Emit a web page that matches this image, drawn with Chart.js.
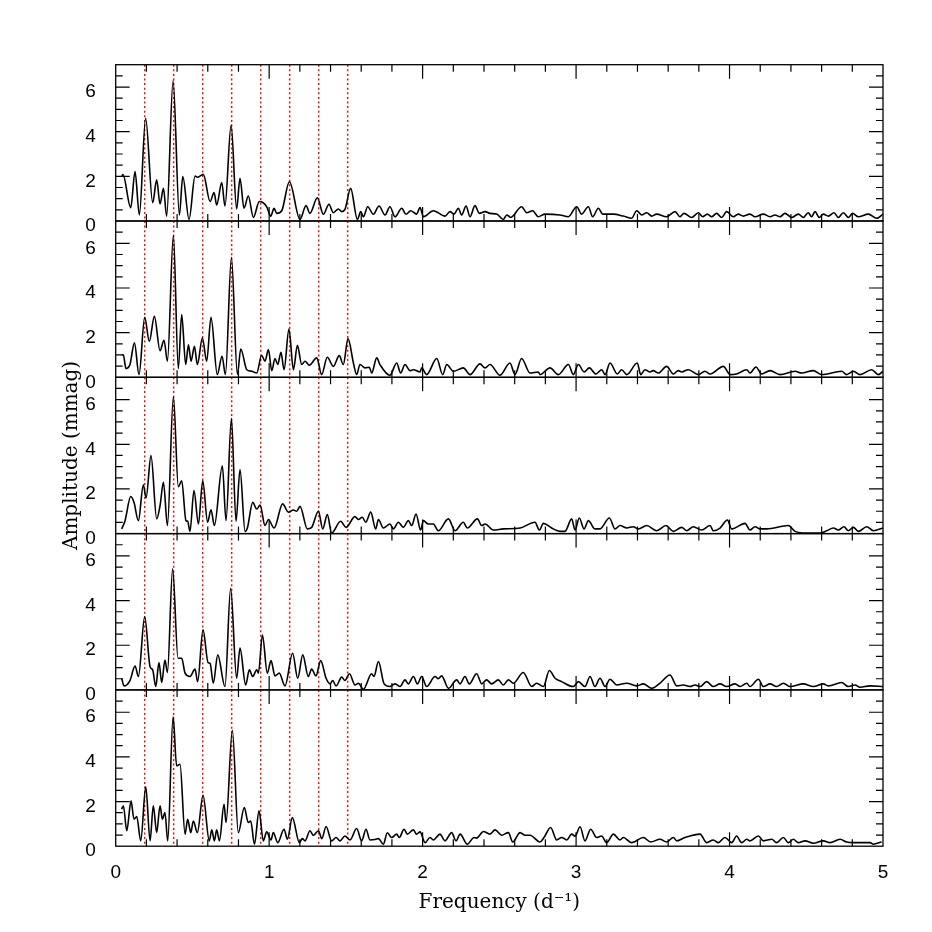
<!DOCTYPE html>
<html>
<head>
<meta charset="utf-8">
<script src="https://cdn.jsdelivr.net/npm/chart.js@4.4.0/dist/chart.umd.min.js"></script>
<style>
  html, body { margin: 0; padding: 0; background: #fff; }
  #wrap { position: relative; width: 932px; height: 932px; }
  #wrap canvas { position: absolute; left: 0; top: 0; }
</style>
</head>
<body>
<div id="wrap">
  <canvas id="p1" width="932" height="932"></canvas>
  <canvas id="p2" width="932" height="932"></canvas>
  <canvas id="p3" width="932" height="932"></canvas>
  <canvas id="p4" width="932" height="932"></canvas>
  <canvas id="p5" width="932" height="932"></canvas>
</div>
<script>
// frequency (d^-1), amplitude (mmag)
const spec1 = [
  [0.040, 2.02], [0.047, 2.08], [0.098, 0.60], [0.126, 2.21], [0.154, 0.27], [0.195, 4.60], [0.241, 0.82], [0.267, 1.84],
  [0.289, 0.76], [0.311, 1.46], [0.332, 0.22], [0.374, 6.28], [0.415, 0.27], [0.437, 1.99], [0.478, 0.07], [0.517, 2.01],
  [0.532, 1.96], [0.571, 2.09], [0.615, 0.87], [0.641, 1.27], [0.658, 0.72], [0.691, 1.72], [0.712, 0.67], [0.752, 4.30],
  [0.788, 0.54], [0.810, 1.91], [0.836, 0.57], [0.864, 1.12], [0.897, 0.16], [0.936, 0.87], [0.984, 0.64], [1.010, 0.22],
  [1.032, 0.57], [1.049, 0.34], [1.082, 0.46], [1.132, 1.76], [1.201, 0.07], [1.240, 0.69], [1.266, 0.34], [1.314, 1.04],
  [1.353, 0.30], [1.390, 0.75], [1.418, 0.37], [1.451, 0.54], [1.473, 0.42], [1.494, 0.52], [1.531, 1.46], [1.575, 0.07],
  [1.597, 0.42], [1.614, 0.19], [1.642, 0.64], [1.679, 0.30], [1.716, 0.67], [1.755, 0.27], [1.787, 0.64], [1.820, 0.19],
  [1.864, 0.57], [1.892, 0.30], [1.922, 0.46], [1.961, 0.31], [1.983, 0.60], [2.005, 0.19], [2.070, 0.46], [2.146, 0.22],
  [2.178, 0.42], [2.205, 0.31], [2.233, 0.57], [2.254, 0.27], [2.283, 0.67], [2.309, 0.19], [2.341, 0.69], [2.370, 0.34],
  [2.407, 0.42], [2.439, 0.34], [2.483, 0.31], [2.526, 0.07], [2.548, 0.27], [2.574, 0.16], [2.645, 0.64], [2.678, 0.37],
  [2.717, 0.46], [2.754, 0.19], [2.797, 0.31], [2.895, 0.27], [2.950, 0.19], [3.004, 0.64], [3.036, 0.31], [3.080, 0.64],
  [3.108, 0.19], [3.145, 0.57], [3.173, 0.31], [3.243, 0.31], [3.308, 0.22], [3.362, 0.12], [3.395, 0.46], [3.427, 0.27],
  [3.460, 0.37], [3.493, 0.22], [3.525, 0.31], [3.590, 0.19], [3.645, 0.42], [3.677, 0.19], [3.703, 0.34], [3.753, 0.16],
  [3.797, 0.37], [3.825, 0.19], [3.855, 0.31], [3.883, 0.19], [3.916, 0.34], [3.949, 0.16], [3.981, 0.42], [4.025, 0.19],
  [4.057, 0.31], [4.090, 0.22], [4.133, 0.31], [4.166, 0.19], [4.220, 0.31], [4.264, 0.19], [4.296, 0.27], [4.329, 0.19],
  [4.361, 0.34], [4.405, 0.16], [4.448, 0.31], [4.481, 0.16], [4.513, 0.37], [4.535, 0.19], [4.557, 0.42], [4.585, 0.16],
  [4.611, 0.31], [4.644, 0.22], [4.681, 0.37], [4.709, 0.16], [4.742, 0.37], [4.774, 0.16], [4.802, 0.34], [4.839, 0.19],
  [4.904, 0.31], [4.959, 0.12], [5.000, 0.31]
];

const spec2 = [
  [0.039, 1.01], [0.050, 1.00], [0.067, 0.39], [0.093, 0.57], [0.122, 1.54], [0.152, 0.12], [0.189, 2.69], [0.219, 1.61],
  [0.252, 2.73], [0.289, 1.19], [0.315, 1.66], [0.337, 0.72], [0.376, 6.36], [0.408, 0.39], [0.430, 2.81], [0.456, 0.57],
  [0.474, 1.46], [0.491, 0.72], [0.513, 1.39], [0.532, 0.57], [0.565, 1.76], [0.593, 0.72], [0.621, 2.69], [0.662, 0.12],
  [0.693, 0.94], [0.715, 0.12], [0.754, 5.37], [0.793, 0.12], [0.815, 1.27], [0.854, 0.34], [0.886, 0.27], [0.919, 0.19],
  [0.951, 0.99], [0.973, 0.72], [0.995, 1.24], [1.017, 0.30], [1.038, 0.84], [1.056, 0.57], [1.077, 1.12], [1.097, 0.34],
  [1.129, 2.16], [1.158, 0.34], [1.184, 1.43], [1.212, 0.57], [1.234, 0.72], [1.262, 0.54], [1.310, 0.87], [1.342, 0.12],
  [1.379, 0.90], [1.418, 0.49], [1.457, 0.97], [1.483, 0.57], [1.514, 1.73], [1.549, 0.64], [1.570, 0.12], [1.592, 0.57],
  [1.625, 0.42], [1.653, 0.45], [1.668, 0.19], [1.701, 0.87], [1.722, 0.57], [1.787, 0.09], [1.831, 0.64], [1.857, 0.19],
  [1.885, 0.57], [1.918, 0.30], [1.940, 0.34], [1.983, 0.24], [1.994, 0.42], [2.026, 0.12], [2.092, 0.84], [2.131, 0.12],
  [2.157, 0.57], [2.200, 0.27], [2.265, 0.42], [2.309, 0.12], [2.374, 0.60], [2.407, 0.42], [2.439, 0.57], [2.504, 0.09],
  [2.569, 0.64], [2.602, 0.12], [2.645, 0.84], [2.700, 0.19], [2.754, 0.24], [2.765, 0.12], [2.830, 0.42], [2.884, 0.12],
  [2.950, 0.57], [2.982, 0.12], [3.015, 0.57], [3.052, 0.24], [3.086, 0.42], [3.130, 0.15], [3.167, 0.34], [3.189, 0.12],
  [3.221, 0.64], [3.269, 0.15], [3.297, 0.34], [3.330, 0.12], [3.399, 0.64], [3.421, 0.12], [3.449, 0.34], [3.482, 0.24],
  [3.503, 0.30], [3.536, 0.19], [3.590, 0.49], [3.634, 0.15], [3.666, 0.30], [3.688, 0.24], [3.731, 0.34], [3.797, 0.12],
  [3.840, 0.27], [3.873, 0.15], [3.960, 0.49], [4.003, 0.12], [4.046, 0.15], [4.112, 0.34], [4.133, 0.19], [4.172, 0.46],
  [4.209, 0.15], [4.264, 0.30], [4.329, 0.12], [4.427, 0.27], [4.470, 0.19], [4.546, 0.30], [4.600, 0.12], [4.731, 0.27],
  [4.763, 0.12], [4.807, 0.27], [4.850, 0.12], [4.926, 0.34], [4.970, 0.12], [5.000, 0.27]
];

const spec3 = [
  [0.039, 0.21], [0.061, 0.58], [0.098, 1.66], [0.119, 1.40], [0.148, 0.58], [0.180, 2.19], [0.198, 1.60], [0.230, 3.49],
  [0.267, 0.66], [0.289, 1.25], [0.311, 2.30], [0.337, 0.36], [0.376, 6.13], [0.408, 2.10], [0.430, 2.37], [0.458, 0.58],
  [0.469, 0.55], [0.484, 0.10], [0.510, 1.93], [0.539, 0.43], [0.567, 2.37], [0.599, 0.51], [0.621, 1.07], [0.643, 0.36],
  [0.695, 3.04], [0.719, 0.58], [0.754, 5.16], [0.784, 0.55], [0.810, 2.87], [0.843, 0.10], [0.858, 0.25], [0.893, 1.40],
  [0.919, 1.10], [0.941, 1.28], [0.973, 0.36], [0.995, 0.63], [1.032, 0.25], [1.088, 1.33], [1.125, 0.96], [1.158, 1.06],
  [1.179, 1.00], [1.201, 1.22], [1.249, 0.21], [1.277, 0.28], [1.321, 1.00], [1.349, 0.21], [1.379, 0.85], [1.407, 0.02],
  [1.466, 0.55], [1.501, 0.28], [1.559, 0.76], [1.581, 0.63], [1.607, 0.73], [1.629, 0.51], [1.662, 0.96], [1.694, 0.21],
  [1.712, 0.63], [1.744, 0.25], [1.787, 0.43], [1.809, 0.21], [1.842, 0.51], [1.874, 0.28], [1.907, 0.58], [1.929, 0.36],
  [1.957, 0.88], [1.987, 0.16], [2.005, 0.58], [2.037, 0.43], [2.070, 0.43], [2.102, 0.13], [2.168, 0.66], [2.211, 0.13],
  [2.265, 0.51], [2.291, 0.25], [2.357, 0.66], [2.385, 0.36], [2.407, 0.43], [2.461, 0.16], [2.526, 0.21], [2.635, 0.25],
  [2.732, 0.51], [2.761, 0.16], [2.787, 0.46], [2.841, 0.25], [2.895, 0.10], [2.928, 0.10], [2.971, 0.66], [2.993, 0.16],
  [3.021, 0.70], [3.052, 0.21], [3.080, 0.58], [3.123, 0.21], [3.156, 0.21], [3.217, 0.70], [3.254, 0.21], [3.286, 0.36],
  [3.330, 0.25], [3.373, 0.31], [3.406, 0.21], [3.460, 0.36], [3.525, 0.13], [3.586, 0.36], [3.634, 0.10], [3.688, 0.28],
  [3.721, 0.13], [3.764, 0.31], [3.818, 0.16], [3.873, 0.36], [3.894, 0.13], [3.938, 0.25], [3.986, 0.61], [4.014, 0.21],
  [4.101, 0.46], [4.133, 0.16], [4.166, 0.31], [4.199, 0.21], [4.242, 0.21], [4.383, 0.36], [4.427, 0.10], [4.503, 0.02],
  [4.590, 0.02], [4.633, 0.13], [4.677, 0.25], [4.709, 0.16], [4.746, 0.31], [4.774, 0.13], [4.807, 0.28], [4.839, 0.10],
  [4.894, 0.31], [4.937, 0.13], [5.000, 0.25]
];

const spec4 = [
  [0.039, 0.52], [0.054, 0.18], [0.093, 0.42], [0.126, 1.07], [0.148, 0.60], [0.189, 3.28], [0.224, 1.04], [0.241, 0.90],
  [0.261, 0.15], [0.282, 1.22], [0.300, 0.33], [0.321, 1.34], [0.337, 0.78], [0.371, 5.42], [0.406, 1.42], [0.430, 1.42],
  [0.452, 0.75], [0.484, 0.60], [0.517, 0.93], [0.534, 0.37], [0.569, 2.69], [0.602, 1.22], [0.615, 1.19], [0.636, 0.30],
  [0.665, 1.57], [0.712, 0.15], [0.749, 4.55], [0.788, 0.52], [0.810, 1.87], [0.847, 0.22], [0.871, 0.90], [0.893, 0.60],
  [0.919, 0.90], [0.930, 0.75], [0.956, 2.46], [0.988, 0.75], [1.012, 1.31], [1.038, 0.63], [1.066, 0.75], [1.103, 0.18],
  [1.153, 1.64], [1.186, 0.52], [1.219, 1.57], [1.255, 0.60], [1.277, 0.93], [1.305, 0.63], [1.336, 1.31], [1.371, 0.52],
  [1.397, 0.27], [1.414, 0.42], [1.436, 0.18], [1.473, 0.57], [1.494, 0.42], [1.523, 0.72], [1.560, 0.22], [1.581, 0.30],
  [1.614, 0.03], [1.668, 0.72], [1.683, 0.60], [1.712, 1.27], [1.749, 0.27], [1.787, 0.15], [1.820, 0.27], [1.853, 0.15],
  [1.885, 0.45], [1.907, 0.27], [1.940, 0.60], [1.966, 0.27], [1.994, 0.60], [2.026, 0.15], [2.081, 0.60], [2.102, 0.50],
  [2.124, 0.63], [2.168, 0.07], [2.222, 0.45], [2.244, 0.27], [2.276, 0.60], [2.304, 0.27], [2.352, 0.72], [2.385, 0.27],
  [2.417, 0.45], [2.450, 0.27], [2.493, 0.45], [2.526, 0.22], [2.559, 0.45], [2.591, 0.30], [2.656, 0.78], [2.711, 0.15],
  [2.743, 0.30], [2.787, 0.15], [2.826, 0.87], [2.863, 0.52], [2.906, 0.37], [2.982, 0.15], [3.015, 0.37], [3.058, 0.15],
  [3.091, 0.60], [3.123, 0.15], [3.156, 0.52], [3.189, 0.15], [3.221, 0.48], [3.265, 0.22], [3.330, 0.30], [3.395, 0.18],
  [3.438, 0.27], [3.493, 0.07], [3.547, 0.30], [3.612, 0.67], [3.656, 0.18], [3.699, 0.22], [3.742, 0.15], [3.775, 0.22],
  [3.808, 0.15], [3.851, 0.37], [3.894, 0.15], [3.938, 0.27], [3.981, 0.15], [4.036, 0.27], [4.068, 0.15], [4.112, 0.30],
  [4.133, 0.15], [4.188, 0.48], [4.220, 0.15], [4.264, 0.27], [4.307, 0.15], [4.351, 0.30], [4.394, 0.15], [4.481, 0.27],
  [4.546, 0.15], [4.611, 0.27], [4.644, 0.18], [4.731, 0.33], [4.774, 0.15], [4.818, 0.22], [4.850, 0.12], [4.915, 0.18],
  [5.000, 0.15]
];

const spec5 = [
  [0.039, 1.66], [0.050, 1.81], [0.072, 0.69], [0.100, 2.03], [0.119, 1.21], [0.137, 1.33], [0.163, 0.24], [0.196, 2.66],
  [0.224, 0.24], [0.245, 1.81], [0.267, 0.61], [0.289, 1.81], [0.304, 1.21], [0.321, 1.51], [0.339, 0.24], [0.374, 5.79],
  [0.397, 3.60], [0.419, 3.67], [0.452, 0.54], [0.469, 1.21], [0.489, 0.61], [0.506, 1.13], [0.532, 0.61], [0.569, 2.28],
  [0.610, 0.24], [0.626, 0.73], [0.643, 0.24], [0.658, 0.73], [0.676, 0.24], [0.706, 1.88], [0.719, 1.06], [0.760, 5.19],
  [0.799, 0.61], [0.838, 1.73], [0.864, 1.06], [0.880, 1.13], [0.904, 0.09], [0.934, 1.58], [0.962, 0.24], [0.984, 0.64],
  [1.012, 0.28], [1.027, 0.61], [1.056, 0.16], [1.097, 0.76], [1.119, 0.31], [1.151, 1.28], [1.197, 0.16], [1.216, 0.34],
  [1.234, 0.24], [1.266, 0.69], [1.288, 0.49], [1.321, 0.69], [1.343, 0.34], [1.371, 0.88], [1.407, 0.24], [1.436, 0.39],
  [1.462, 0.24], [1.494, 0.46], [1.527, 0.28], [1.570, 0.79], [1.603, 0.24], [1.631, 0.76], [1.657, 0.28], [1.690, 0.30],
  [1.712, 0.34], [1.744, 0.09], [1.770, 0.60], [1.798, 0.39], [1.831, 0.54], [1.848, 0.39], [1.879, 0.76], [1.900, 0.54],
  [1.940, 0.73], [1.961, 0.54], [1.983, 0.64], [2.016, 0.16], [2.048, 0.39], [2.070, 0.28], [2.113, 0.54], [2.146, 0.24],
  [2.189, 0.61], [2.218, 0.24], [2.244, 0.54], [2.291, 0.09], [2.335, 0.39], [2.352, 0.36], [2.396, 0.66], [2.439, 0.54],
  [2.472, 0.73], [2.515, 0.49], [2.559, 0.61], [2.587, 0.19], [2.635, 0.61], [2.667, 0.49], [2.700, 0.49], [2.765, 0.19],
  [2.791, 0.39], [2.834, 0.84], [2.874, 0.28], [2.906, 0.39], [2.939, 0.28], [2.971, 0.54], [2.993, 0.45], [3.026, 0.87],
  [3.058, 0.24], [3.095, 0.76], [3.134, 0.39], [3.167, 0.46], [3.199, 0.16], [3.243, 0.54], [3.286, 0.28], [3.308, 0.39],
  [3.362, 0.16], [3.438, 0.39], [3.486, 0.19], [3.547, 0.31], [3.590, 0.19], [3.634, 0.39], [3.656, 0.24], [3.710, 0.39],
  [3.808, 0.54], [3.851, 0.16], [3.894, 0.28], [3.927, 0.16], [3.970, 0.39], [4.014, 0.16], [4.046, 0.46], [4.079, 0.16],
  [4.112, 0.31], [4.133, 0.24], [4.188, 0.46], [4.220, 0.24], [4.275, 0.31], [4.307, 0.16], [4.351, 0.39], [4.383, 0.16],
  [4.416, 0.31], [4.448, 0.16], [4.492, 0.24], [4.546, 0.13], [4.611, 0.24], [4.655, 0.16], [4.720, 0.31], [4.763, 0.19],
  [4.807, 0.16], [4.915, 0.16], [4.937, 0.09], [4.991, 0.19]
];

const spectra = [spec1, spec2, spec3, spec4, spec5];

// red dotted markers (multiples of the base frequency)
const markers = [0.189, 0.378, 0.567, 0.756, 0.945, 1.134, 1.323, 1.512];

const xTicks = [0, 1, 2, 3, 4, 5];
const yTicks = [0, 2, 4, 6];

// layout of the stacked panels (pixels)
const W = 932;
const plotLeft = 115.7;
const plotRight = 883;
const firstTop = 64.7;
const panelH = 156.3;

const labelFont = { family: 'Liberation Sans, Arial, sans-serif', size: 19 };
const titleFont = { family: 'DejaVu Serif, serif', size: 20 };

// frame, inward ticks and red marker lines
const panelDecor = {
  id: 'panelDecor',
  beforeDatasetsDraw(chart) {
    const { ctx, chartArea: a, scales: { x } } = chart;
    ctx.save();
    ctx.strokeStyle = '#ff0000';
    ctx.lineWidth = 1.4;
    ctx.setLineDash([2, 2.6]);
    markers.forEach(f => {
      const px = x.getPixelForValue(f);
      ctx.beginPath();
      ctx.moveTo(px, a.top);
      ctx.lineTo(px, a.bottom);
      ctx.stroke();
    });
    ctx.restore();
  },
  afterDraw(chart) {
    const { ctx, chartArea: a, scales: { x, y } } = chart;
    ctx.save();
    ctx.strokeStyle = '#000';
    ctx.lineWidth = 1.2;
    ctx.beginPath();
    // y ticks every 0.5, long on the labelled values
    for (let i = 1; i < 14; i++) {
      const v = i * 0.5;
      const len = yTicks.includes(v) ? 14 : 7;
      const py = y.getPixelForValue(v);
      ctx.moveTo(a.left, py); ctx.lineTo(a.left + len, py);
      ctx.moveTo(a.right, py); ctx.lineTo(a.right - len, py);
    }
    // x ticks every 0.2, long on the integers
    for (let i = 1; i < 25; i++) {
      const v = i * 0.2;
      const len = i % 5 === 0 ? 14 : 7;
      const px = x.getPixelForValue(v);
      ctx.moveTo(px, a.bottom); ctx.lineTo(px, a.bottom - len);
      ctx.moveTo(px, a.top); ctx.lineTo(px, a.top + len);
    }
    ctx.stroke();
    ctx.lineWidth = 1.3;
    ctx.strokeRect(a.left, a.top, a.right - a.left, a.bottom - a.top);
    ctx.restore();
  }
};

spectra.forEach((spec, k) => {
  const top = firstTop + k * panelH;
  const bottom = top + panelH;
  const isLast = k === spectra.length - 1;
  const isMiddle = k === 2;

  new Chart(document.getElementById('p' + (k + 1)), {
    type: 'line',
    data: {
      datasets: [{
        data: spec.map(p => ({ x: p[0], y: p[1] })),
        borderColor: '#000',
        borderWidth: 1.6,
        pointRadius: 0,
        fill: false,
        cubicInterpolationMode: 'monotone'
      }]
    },
    options: {
      responsive: false,
      animation: false,
      events: [],
      layout: {
        padding: { left: 0, right: W - plotRight, top: top, bottom: isLast ? 0 : W - bottom }
      },
      plugins: { legend: { display: false }, tooltip: { enabled: false } },
      scales: {
        x: {
          type: 'linear',
          min: 0,
          max: 5,
          display: isLast,
          grid: { display: false },
          border: { display: false },
          afterBuildTicks: s => { s.ticks = xTicks.map(v => ({ value: v })); },
          afterFit: s => { if (isLast) s.height = W - bottom; },
          ticks: { color: '#000', font: labelFont, padding: 7, maxRotation: 0 },
          title: {
            display: isLast,
            text: 'Frequency (d\u207B\u00B9)',
            color: '#000',
            font: titleFont,
            padding: { top: 0, bottom: 17 }
          }
        },
        y: {
          type: 'linear',
          min: 0,
          max: 7,
          position: 'left',
          grid: { display: false },
          border: { display: false },
          afterBuildTicks: s => { s.ticks = yTicks.map(v => ({ value: v })); },
          afterFit: s => { s.width = plotLeft; },
          ticks: { color: '#000', font: labelFont, padding: 12, labelOffset: 5 },
          title: {
            display: isMiddle,
            text: 'Amplitude (mmag)',
            color: '#000',
            font: titleFont,
            padding: { top: 60, bottom: 0 }
          }
        }
      }
    },
    plugins: [panelDecor]
  });
});
</script>
</body>
</html>
